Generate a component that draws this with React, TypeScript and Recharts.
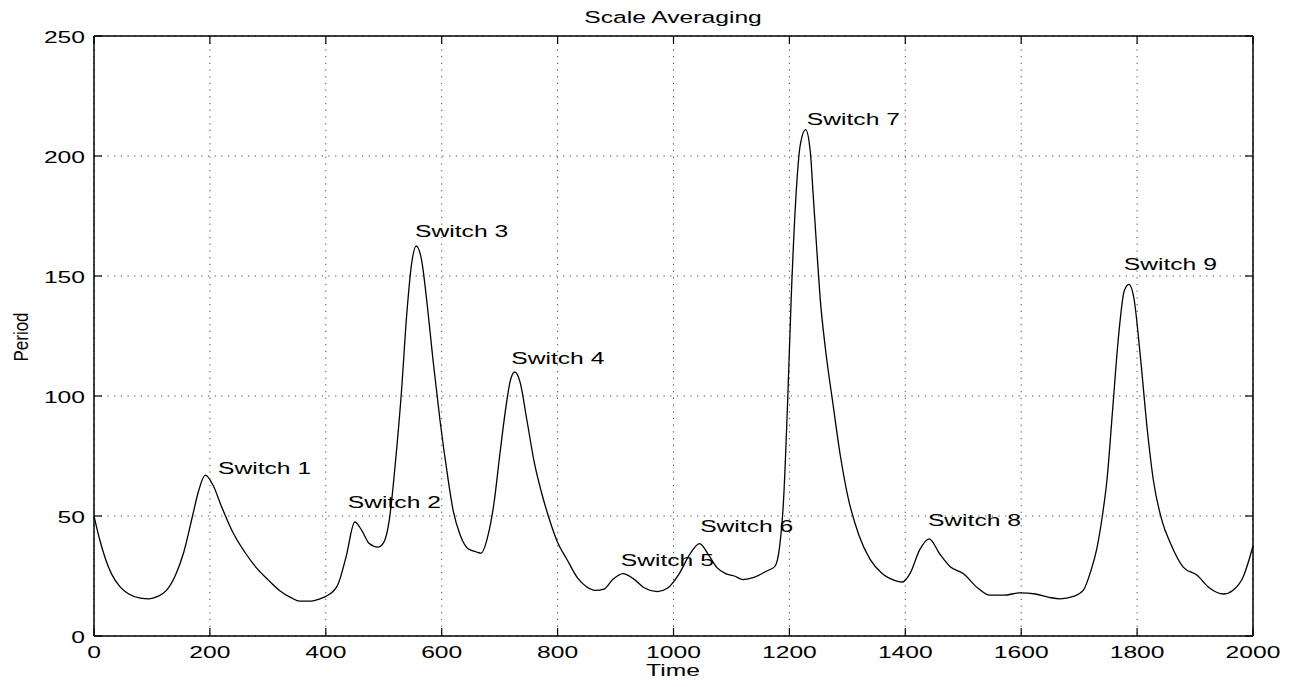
import { ComposedChart, Line, Scatter, XAxis, YAxis, CartesianGrid, ReferenceLine } from "recharts";

// scale-averaged period over time
const times = [
  0, 10, 20, 30, 45, 60, 80, 95, 110, 125, 140, 155, 170, 180, 192, 205, 220, 240, 260, 280,
  300, 320, 340, 355, 375, 390, 400, 420, 435, 450, 462, 475, 490, 500, 510, 520, 530, 540, 548, 556,
  565, 575, 585, 597, 610, 620, 632, 645, 660, 668, 680, 690, 700, 710, 718, 726, 735, 747, 760, 772,
  784, 800, 816, 835, 850, 865, 880, 895, 913, 930, 950, 972, 990, 1010, 1028, 1045, 1060, 1075, 1090, 1105,
  1120, 1140, 1160, 1175, 1183, 1190, 1197, 1203, 1211, 1219, 1228, 1236, 1241, 1247, 1253, 1262, 1275, 1288, 1301, 1320,
  1339, 1360, 1384, 1395, 1408, 1425, 1441, 1460, 1477, 1500, 1525, 1546, 1570, 1598, 1625, 1650, 1667, 1690, 1707, 1720,
  1731, 1740, 1748, 1758, 1768, 1778, 1786, 1795, 1805, 1818, 1828, 1843, 1857, 1880, 1903, 1925, 1949, 1965, 1983, 2000,
];
const periods = [
  50, 40, 32, 26, 20.5, 17.5, 15.8, 15.5, 16.5, 19, 25, 35, 50, 60, 67, 63, 54, 43, 35, 28.5,
  23.5, 19, 16, 14.5, 14.5, 15.5, 16.5, 21, 33, 47.5, 44, 38.5, 37, 39, 49, 72, 100, 135, 155, 162.5,
  157, 138, 115, 90, 67, 52, 42, 36.5, 35, 34.5, 42, 55, 75, 94, 106, 110, 106, 90, 72, 60,
  50, 39, 32, 24, 20.5, 19, 19.5, 23.5, 26, 24, 20, 18.5, 20, 26, 34, 38.5, 34, 28.5, 26, 25,
  23.5, 24.5, 27, 29, 37, 57, 98, 140, 182, 205, 211, 202, 184, 162, 141, 120, 97, 75, 58, 42,
  32, 26, 23, 22.5, 26, 36, 40.5, 34, 29, 26, 20, 17, 17, 18, 17.5, 16, 15.5, 16.5, 19, 27,
  37, 50, 65, 95, 125, 144, 146.5, 140, 118, 85, 65, 48, 39, 28.6, 25.4, 20, 17.5, 19, 24.6, 37.5,
];

const switchNames = ["Switch 1", "Switch 2", "Switch 3", "Switch 4", "Switch 5", "Switch 6", "Switch 7", "Switch 8", "Switch 9"];
const switchTimes = [214, 438, 554, 720, 909, 1046, 1230, 1439, 1777];
const switchPeriods = [70, 56, 168.7, 116, 31.7, 46, 215.6, 48.3, 155];

const xTicks = [0, 200, 400, 600, 800, 1000, 1200, 1400, 1600, 1800, 2000];
const yTicks = [0, 50, 100, 150, 200, 250];

const data = times.map((t, i) => ({ t, v: periods[i] }));
const labels = switchNames.map((name, i) => ({ t: switchTimes[i], v: switchPeriods[i], name }));

const W = 1296;
const H = 687;
const PLOT_W = 1159;
const PLOT_H = 600;
const FONT = "'Liberation Sans', Arial, Helvetica, sans-serif";
const FS = 17;
const SX = 1.45;
const TICK = 8;

function XTick(props: any) {
  const { x, y, payload } = props;
  return (
    <g>
      <line x1={x} y1={y} x2={x} y2={y - TICK} stroke="#000" strokeWidth={1.2} />
      <line x1={x} y1={y - PLOT_H} x2={x} y2={y - PLOT_H + TICK} stroke="#000" strokeWidth={1.2} />
      <text
        transform={`translate(${x},${y + 16}) scale(${SX},1)`}
        textAnchor="middle"
        dominantBaseline="central"
        fontFamily={FONT}
        fontSize={FS}
        fill="#000"
      >
        {payload.value}
      </text>
    </g>
  );
}

function YTick(props: any) {
  const { x, y, payload } = props;
  return (
    <g>
      <line x1={x} y1={y} x2={x + TICK} y2={y} stroke="#000" strokeWidth={1.2} />
      <line x1={x + PLOT_W} y1={y} x2={x + PLOT_W - TICK} y2={y} stroke="#000" strokeWidth={1.2} />
      <text
        transform={`translate(${x - 9},${y + 1}) scale(${SX},1)`}
        textAnchor="end"
        dominantBaseline="central"
        fontFamily={FONT}
        fontSize={FS}
        fill="#000"
      >
        {payload.value}
      </text>
    </g>
  );
}

function SwitchLabel(props: any) {
  const { cx, cy, payload } = props;
  return (
    <text
      transform={`translate(${cx},${cy}) scale(${SX},1)`}
      dominantBaseline="central"
      fontFamily={FONT}
      fontSize={FS}
      fill="#000"
    >
      {payload.name}
    </text>
  );
}

export default function App() {
  return (
    <div style={{ position: "absolute", left: 0, top: 0, width: W, height: H, background: "#fff" }}>
      <ComposedChart width={W} height={H} data={data} margin={{ top: 36, right: 43, bottom: 0, left: 0 }}>
        <CartesianGrid stroke="#444" strokeDasharray="1.2 5.5" strokeWidth={1} />
        <XAxis
          dataKey="t"
          type="number"
          domain={[0, 2000]}
          ticks={xTicks}
          height={51}
          tickSize={0}
          tickMargin={0}
          tickLine={false}
          axisLine={{ stroke: "#000", strokeWidth: 1.5 }}
          tick={<XTick />}
          interval={0}
        />
        <YAxis
          type="number"
          domain={[0, 250]}
          ticks={yTicks}
          width={94}
          tickSize={0}
          tickMargin={0}
          tickLine={false}
          axisLine={{ stroke: "#000", strokeWidth: 1.5 }}
          tick={<YTick />}
          interval={0}
        />
        <ReferenceLine y={250} stroke="#000" strokeWidth={1.5} />
        <ReferenceLine x={2000} stroke="#000" strokeWidth={1.5} />
        <Line type="monotone" dataKey="v" stroke="#000" strokeWidth={1.3} dot={false} isAnimationActive={false} />
        <Scatter data={labels} dataKey="v" shape={<SwitchLabel />} isAnimationActive={false} />
        <text x={673} y={17} textAnchor="middle" dominantBaseline="central" fontFamily={FONT} fontSize={FS}
          transform={`translate(673,17) scale(${SX},1) translate(-673,-17)`}>
          Scale Averaging
        </text>
        <text x={673} y={670} textAnchor="middle" dominantBaseline="central" fontFamily={FONT} fontSize={FS}
          transform={`translate(673,670) scale(${SX},1) translate(-673,-670)`}>
          Time
        </text>
        <text x={0} y={0} textAnchor="middle" dominantBaseline="central" fontFamily={FONT} fontSize={FS}
          transform="translate(21,337) scale(1.15,1) rotate(-90)">
          Period
        </text>
      </ComposedChart>
    </div>
  );
}
